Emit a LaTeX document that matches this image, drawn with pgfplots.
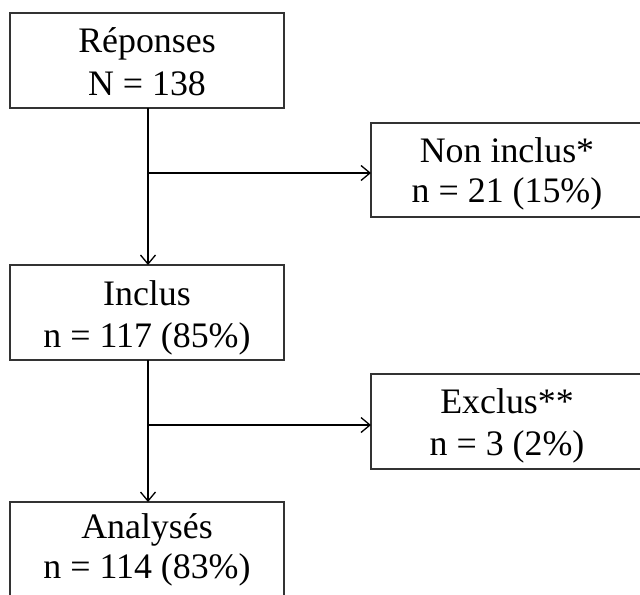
\documentclass[border=0pt]{standalone}
\usepackage{fontspec}
\setmainfont{Liberation Serif}
\usepackage{pgfplots}
\pgfplotsset{compat=1.18}
\usetikzlibrary{arrows.meta}

\tikzset{
    boxline/.style={black!80},
    flow/.style={black, -{Straight Barb[length=9bp,width=15bp,line width=1.3bp]}},
    txt/.style={anchor=base, inner sep=0pt, font=\fontsize{36}{43}\selectfont},
}

\begin{document}
\begin{tikzpicture}
\begin{axis}[
    name=ax,
    width=640bp, height=594bp, scale only axis,
    xmin=0, xmax=640, ymin=0, ymax=594,
    y dir=reverse,
    hide axis,
    clip=true,
    every axis plot/.append style={line width=1.4bp, line join=miter, mark=none},
]
% boxes (left column)
\addplot[boxline] coordinates {(10,13)(284,13)(284,108)(10,108)} -- cycle;
\addplot[boxline] coordinates {(10,265)(284,265)(284,360)(10,360)} -- cycle;
\addplot[boxline] coordinates {(10,610)(10,502)(284,502)(284,610)};
% boxes (right column, cut at the edge)
\addplot[boxline] coordinates {(660,123)(371,123)(371,217)(660,217)};
\addplot[boxline] coordinates {(660,374)(371,374)(371,469)(660,469)};

% arrows
\addplot[flow] coordinates {(148,108)(148,265)};
\addplot[flow] coordinates {(148,173)(371,173)};
\addplot[flow] coordinates {(148,360)(148,502)};
\addplot[flow] coordinates {(148,425)(371,425)};

% labels
\node[txt] at (axis cs:147,53) {Réponses};
\node[txt] at (axis cs:147,95) {N = 138};
\node[txt] at (axis cs:507,162) {Non inclus*};
\node[txt] at (axis cs:507,202) {n = 21 (15\%)};
\node[txt] at (axis cs:147,305) {Inclus};
\node[txt] at (axis cs:147,347) {n = 117 (85\%)};
\node[txt] at (axis cs:507,413) {Exclus**};
\node[txt] at (axis cs:507,455) {n = 3 (2\%)};
\node[txt] at (axis cs:147,538) {Analysés};
\node[txt] at (axis cs:147,578) {n = 114 (83\%)};
\end{axis}
\pgfresetboundingbox
\useasboundingbox (ax.south west) rectangle (ax.north east);
\end{tikzpicture}
\end{document}
